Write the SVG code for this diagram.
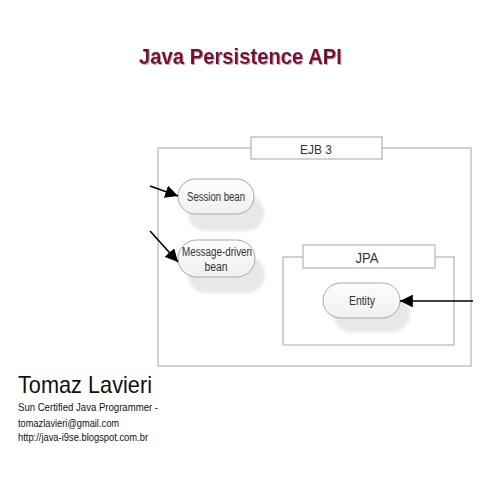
<svg xmlns="http://www.w3.org/2000/svg" width="480" height="480" viewBox="0 0 480 480">
<style>
.box{fill:none;stroke:#b4b4b4;stroke-width:1.2}
.lbl{fill:#fff;stroke:#b4b4b4;stroke-width:1.2}
.pill{fill:url(#pg);stroke:#a8a8a8;stroke-width:1}
.shadow{fill:#e8e8e8;filter:url(#blur)}
.t{font-family:"Liberation Sans",Arial,sans-serif;fill:#333;text-anchor:middle}
.conn{stroke:#000;stroke-width:1.6;fill:none;marker-end:url(#ah)}
.foot{font-family:"Liberation Sans",Arial,sans-serif;fill:#111}
</style>
<defs>
<linearGradient id="pg" x1="0" y1="0" x2="0" y2="1">
<stop offset="0" stop-color="#fdfdfd"/>
<stop offset="1" stop-color="#f0f0f0"/>
</linearGradient>
<filter id="blur" x="-20%" y="-30%" width="140%" height="160%">
<feGaussianBlur stdDeviation="1.5"/>
</filter>
<filter id="ts" x="-5%" y="-20%" width="110%" height="140%">
<feDropShadow dx="1" dy="1" stdDeviation="0.6" flood-color="#b09aa2" flood-opacity="0.8"/>
</filter>
<marker id="ah" viewBox="0 0 10 10" refX="10" refY="5" markerWidth="8" markerHeight="8" markerUnits="strokeWidth" orient="auto">
<path d="M0,0 L10,5 L0,10 z" fill="#000"/>
</marker>
</defs>
<rect width="480" height="480" fill="#fff"/>
<g id="title">
<text x="139" y="64" font-family="Liberation Sans,Arial,sans-serif" font-weight="bold" font-size="22" fill="#781030" textLength="203" lengthAdjust="spacingAndGlyphs" filter="url(#ts)">Java Persistence API</text>
</g>
<g id="ejb3">
<rect class="box" x="158" y="148" width="313" height="218"/>
<rect class="lbl" x="251" y="137" width="131" height="22"/>
<text class="t" x="316" y="154" font-size="13" textLength="32" lengthAdjust="spacingAndGlyphs" fill="#222">EJB 3</text>
</g>
<g id="jpa">
<rect class="box" x="283" y="257" width="171" height="88"/>
<rect class="lbl" x="303" y="245" width="132" height="23"/>
<text class="t" x="367" y="263" font-size="14" textLength="23" lengthAdjust="spacingAndGlyphs" fill="#222">JPA</text>
</g>
<g id="session-bean">
<rect class="shadow" x="188" y="195" width="76" height="36" rx="18"/>
<rect class="pill" x="178" y="179" width="76" height="35" rx="17.5"/>
<text class="t" x="216" y="201" font-size="12" textLength="58" lengthAdjust="spacingAndGlyphs">Session bean</text>
</g>
<g id="message-driven-bean">
<rect class="shadow" x="188" y="256" width="77" height="37" rx="18"/>
<rect class="pill" x="178" y="240" width="77" height="37" rx="18.5"/>
<text class="t" x="217" y="256" font-size="12" textLength="70" lengthAdjust="spacingAndGlyphs">Message-driven</text>
<text class="t" x="216" y="271" font-size="12" textLength="23" lengthAdjust="spacingAndGlyphs">bean</text>
</g>
<g id="entity">
<rect class="shadow" x="333" y="297" width="77" height="35" rx="17.5"/>
<rect class="pill" x="323" y="283" width="77" height="35" rx="17.5"/>
<text class="t" x="362" y="305" font-size="12" textLength="26" lengthAdjust="spacingAndGlyphs">Entity</text>
</g>
<g id="connectors">
<line class="conn" x1="150" y1="186" x2="178" y2="196"/>
<line class="conn" x1="150" y1="231" x2="178" y2="262"/>
<line class="conn" x1="473" y1="301" x2="400" y2="301"/>
</g>
<g id="footer">
<text class="foot" x="18" y="393" font-size="24" textLength="134" lengthAdjust="spacingAndGlyphs">Tomaz Lavieri</text>
<text class="foot" x="18" y="411" font-size="11" textLength="140" lengthAdjust="spacingAndGlyphs">Sun Certified Java Programmer -</text>
<text class="foot" x="18" y="427" font-size="11" textLength="101" lengthAdjust="spacingAndGlyphs">tomazlavieri@gmail.com</text>
<text class="foot" x="18" y="441" font-size="11" textLength="130" lengthAdjust="spacingAndGlyphs">http://java-i9se.blogspot.com.br</text>
</g>
</svg>
